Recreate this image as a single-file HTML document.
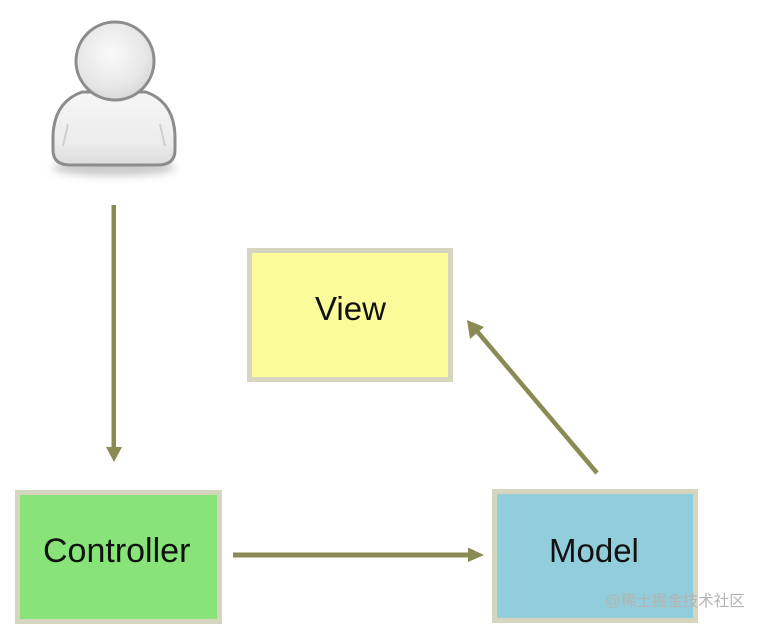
<!DOCTYPE html>
<html>
<head>
<meta charset="utf-8">
<style>
html,body{margin:0;padding:0;background:#fff;}
body{width:767px;height:627px;overflow:hidden;}
svg{display:block;}
</style>
</head>
<body>
<svg width="767" height="627" viewBox="0 0 767 627" xmlns="http://www.w3.org/2000/svg">
  <defs>
    <radialGradient id="headG" cx="0.45" cy="0.4" r="0.65">
      <stop offset="0" stop-color="#fafafa"/>
      <stop offset="0.7" stop-color="#e6e6e6"/>
      <stop offset="1" stop-color="#d4d4d4"/>
    </radialGradient>
    <linearGradient id="bodyG" x1="0" y1="0" x2="0" y2="1">
      <stop offset="0" stop-color="#f6f6f6"/>
      <stop offset="0.7" stop-color="#ececec"/>
      <stop offset="1" stop-color="#dcdcdc"/>
    </linearGradient>
    <filter id="blur" x="-20%" y="-50%" width="140%" height="200%">
      <feGaussianBlur stdDeviation="4"/>
    </filter>
  </defs>

  <!-- person icon -->
  <ellipse cx="114" cy="168" rx="62" ry="8" fill="#bdbdbd" filter="url(#blur)" opacity="0.8"/>
  <path d="M82 92 Q54 102 53 136 L53 150 Q53 165 70 165 L158 165 Q175 165 175 150 L175 136 Q174 102 146 92 Z"
        fill="url(#bodyG)" stroke="#8c8c8c" stroke-width="3"/>
  <path d="M68 124 L63 146" stroke="#cfcfcf" stroke-width="2" fill="none"/>
  <path d="M160 124 L165 146" stroke="#cfcfcf" stroke-width="2" fill="none"/>
  <circle cx="115" cy="61" r="39" fill="url(#headG)" stroke="#8c8c8c" stroke-width="3"/>

  <!-- boxes -->
  <rect x="17.5" y="492.5" width="202" height="129" fill="#88e378" stroke="#d6d6c0" stroke-width="5"/>
  <rect x="494.5" y="491.5" width="201" height="129" fill="#92cddb" stroke="#d6d6c0" stroke-width="5"/>
  <rect x="249.5" y="250.5" width="201" height="129" fill="#fbfb9a" stroke="#d6d6c0" stroke-width="5"/>

  <text x="43" y="562" font-family="'Liberation Sans', sans-serif" font-size="34" fill="#111">Controller</text>
  <text x="549" y="562" font-family="'Liberation Sans', sans-serif" font-size="33" fill="#111">Model</text>
  <text x="315" y="320" font-family="'Liberation Sans', sans-serif" font-size="33" fill="#111">View</text>

  <!-- arrows -->
  <g fill="#8a8a55" stroke="none">
    <rect x="111.5" y="205" width="4.5" height="244"/>
    <polygon points="106,447 122,447 114,462"/>
    <rect x="233" y="552.5" width="237" height="5"/>
    <polygon points="468,547.5 468,562 484,555"/>
  </g>
  <line x1="597" y1="473" x2="476" y2="330" stroke="#8a8a55" stroke-width="4.5"/>
  <polygon points="467,320 484,327 470,339" fill="#8a8a55"/>

  <!-- watermark -->
  <text x="605" y="606" font-family="'Liberation Sans', 'Noto Sans CJK SC', sans-serif" font-size="15.5" fill="#b4b4b4">@稀土掘金技术社区</text>
</svg>
</body>
</html>
